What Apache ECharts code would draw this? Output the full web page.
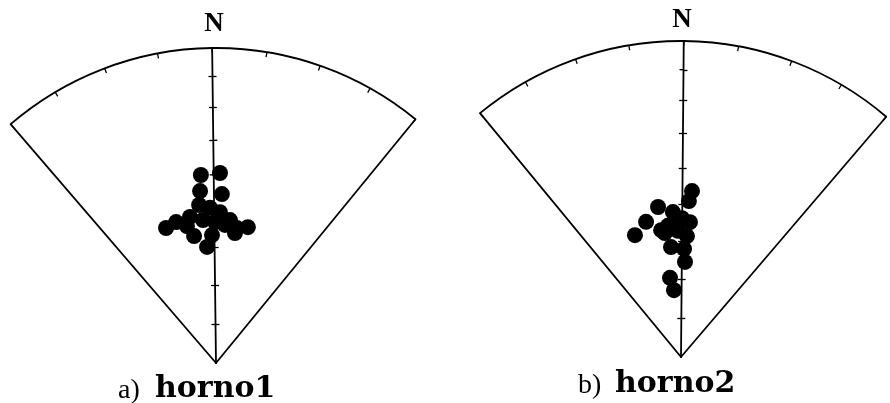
<!DOCTYPE html>
<html><head><meta charset="utf-8">
<script src="https://cdn.jsdelivr.net/npm/echarts@6/dist/echarts.min.js"></script>
<style>html,body{margin:0;padding:0;background:#fff}#c{width:890px;height:403px}</style>
</head><body><div id="c"></div>
<script>
// Declination (deg, from N) and inclination (deg) of each specimen
const decl1 = [-3.9, 1.9, -4.6, 2.7, -5.4, -1.5, 2.2, -9.4, -4.5, 0.3, -19.6, -15.1, -11.3, 6.3, 9.5, 13.9, 9.0, -9.1, -3.7, -1.1, 4.4];
const incl1 = [39.9, 39.5, 44.4, 45.4, 48.2, 49.2, 50.4, 51.1, 52.4, 53.1, 52.3, 51.6, 53.4, 52.4, 54.3, 53.5, 55.7, 56.4, 59.7, 56.6, 53.8];
const decl2 = [3.3, 2.4, -9.2, -15.0, -21.2, -3.7, -0.1, 3.3, -6.2, -7.9, -1.9, 2.3, -5.7, 1.1, 1.9, -8.4, -6.5, -2.2, -9.4];
const incl2 = [46.3, 49.1, 50.3, 53.6, 56.1, 52.1, 53.8, 54.8, 55.7, 57.5, 57.2, 58.6, 61.4, 62.0, 65.4, 69.4, 72.7, 55.3, 56.6];
const inclTicks = [80, 70, 60, 50, 40, 30, 20, 10];
const declMin = -40, declMax = 40, declStep = 10;
const prefixes = ['a)', 'b)'];
const names = ['horno1', 'horno2'];
const northLabel = 'N';

function eqArea(inc) { return Math.SQRT2 * Math.sin((90 - inc) / 2 * Math.PI / 180); }

const panels = [
  { cx: 216, cy: 363, R: 315, rot: 0.7, dec: decl1, inc: incl1, nx: 214, ny: 24, lx: 118, ly: 389 },
  { cx: 681, cy: 357, R: 316, rot: -0.5, dec: decl2, inc: incl2, nx: 682, ny: 20, lx: 578, ly: 384 }
];

const polar = [], angleAxis = [], radiusAxis = [], series = [], graphic = [];
const black = '#000';
const LW = 1.8;
const hideAll = { axisLine: { show: false }, axisTick: { show: false }, axisLabel: { show: false }, splitLine: { show: false } };

panels.forEach((p, k) => {
  const base = polar.length;
  const up = 90 + p.rot;
  const span = (declMax - declMin) / 2;
  const a = up * Math.PI / 180;
  const top = [p.cx + p.R * Math.cos(a), p.cy - p.R * Math.sin(a)];
  // A: data sector, arc and left edge; B: right edge
  // C: N axis ticks on one side; D: same axis seen from its top end, ticks on the other side
  const defs = [
    { c: [p.cx, p.cy], start: up + span, end: up - span, cw: true, arc: true, rLine: true },
    { c: [p.cx, p.cy], start: up - span, end: up + span, cw: false, rLine: true },
    { c: [p.cx, p.cy], start: up, end: up - span, cw: true, rLine: true, ticks: true },
    { c: top, start: up + 180, end: up + 180 - span, cw: true, rLine: false, ticks: true, inv: true }
  ];
  defs.forEach((d, j) => {
    polar.push({ center: d.c, radius: p.R });
    angleAxis.push(Object.assign({}, hideAll, {
      polarIndex: base + j, type: 'value', min: declMin, max: declMax, interval: declStep,
      startAngle: d.start, endAngle: d.end, clockwise: d.cw,
      axisLine: { show: !!d.arc, lineStyle: { color: black, width: LW } },
      axisTick: { show: !!d.arc, inside: true, length: 5, lineStyle: { color: black, width: 1.3 } }
    }));
    radiusAxis.push(Object.assign({}, hideAll, {
      polarIndex: base + j, type: 'value', min: 0, max: 1, inverse: !!d.inv,
      axisLine: { show: d.rLine, lineStyle: { color: black, width: LW } },
      axisTick: d.ticks ? { show: true, length: 4,
        customValues: inclTicks.map(eqArea), lineStyle: { color: black, width: 1.3 } } : { show: false }
    }));
  });
  series.push({
    type: 'scatter', coordinateSystem: 'polar', polarIndex: base,
    symbol: 'circle', symbolSize: 16, itemStyle: { color: '#000', opacity: 1 },
    data: p.dec.map((dv, i) => [eqArea(p.inc[i]), dv])
  });
  graphic.push({ type: 'text', x: p.nx, y: p.ny, style: { text: northLabel, font: 'bold 27px "Liberation Serif"', fill: black, textAlign: 'center', textVerticalAlign: 'middle' } });
  graphic.push({ type: 'text', x: p.lx, y: p.ly + 2, style: { text: prefixes[k], font: '28px "Liberation Serif"', fill: black, textAlign: 'left', textVerticalAlign: 'middle' } });
  graphic.push({ type: 'text', x: p.lx + 37, y: p.ly, style: { text: names[k], font: 'bold 30px "DejaVu Serif"', fill: black, textAlign: 'left', textVerticalAlign: 'middle' } });
});

const chart = echarts.init(document.getElementById('c'));
chart.setOption({ backgroundColor: '#fff', animation: false, polar, angleAxis, radiusAxis, series, graphic });
</script></body></html>
